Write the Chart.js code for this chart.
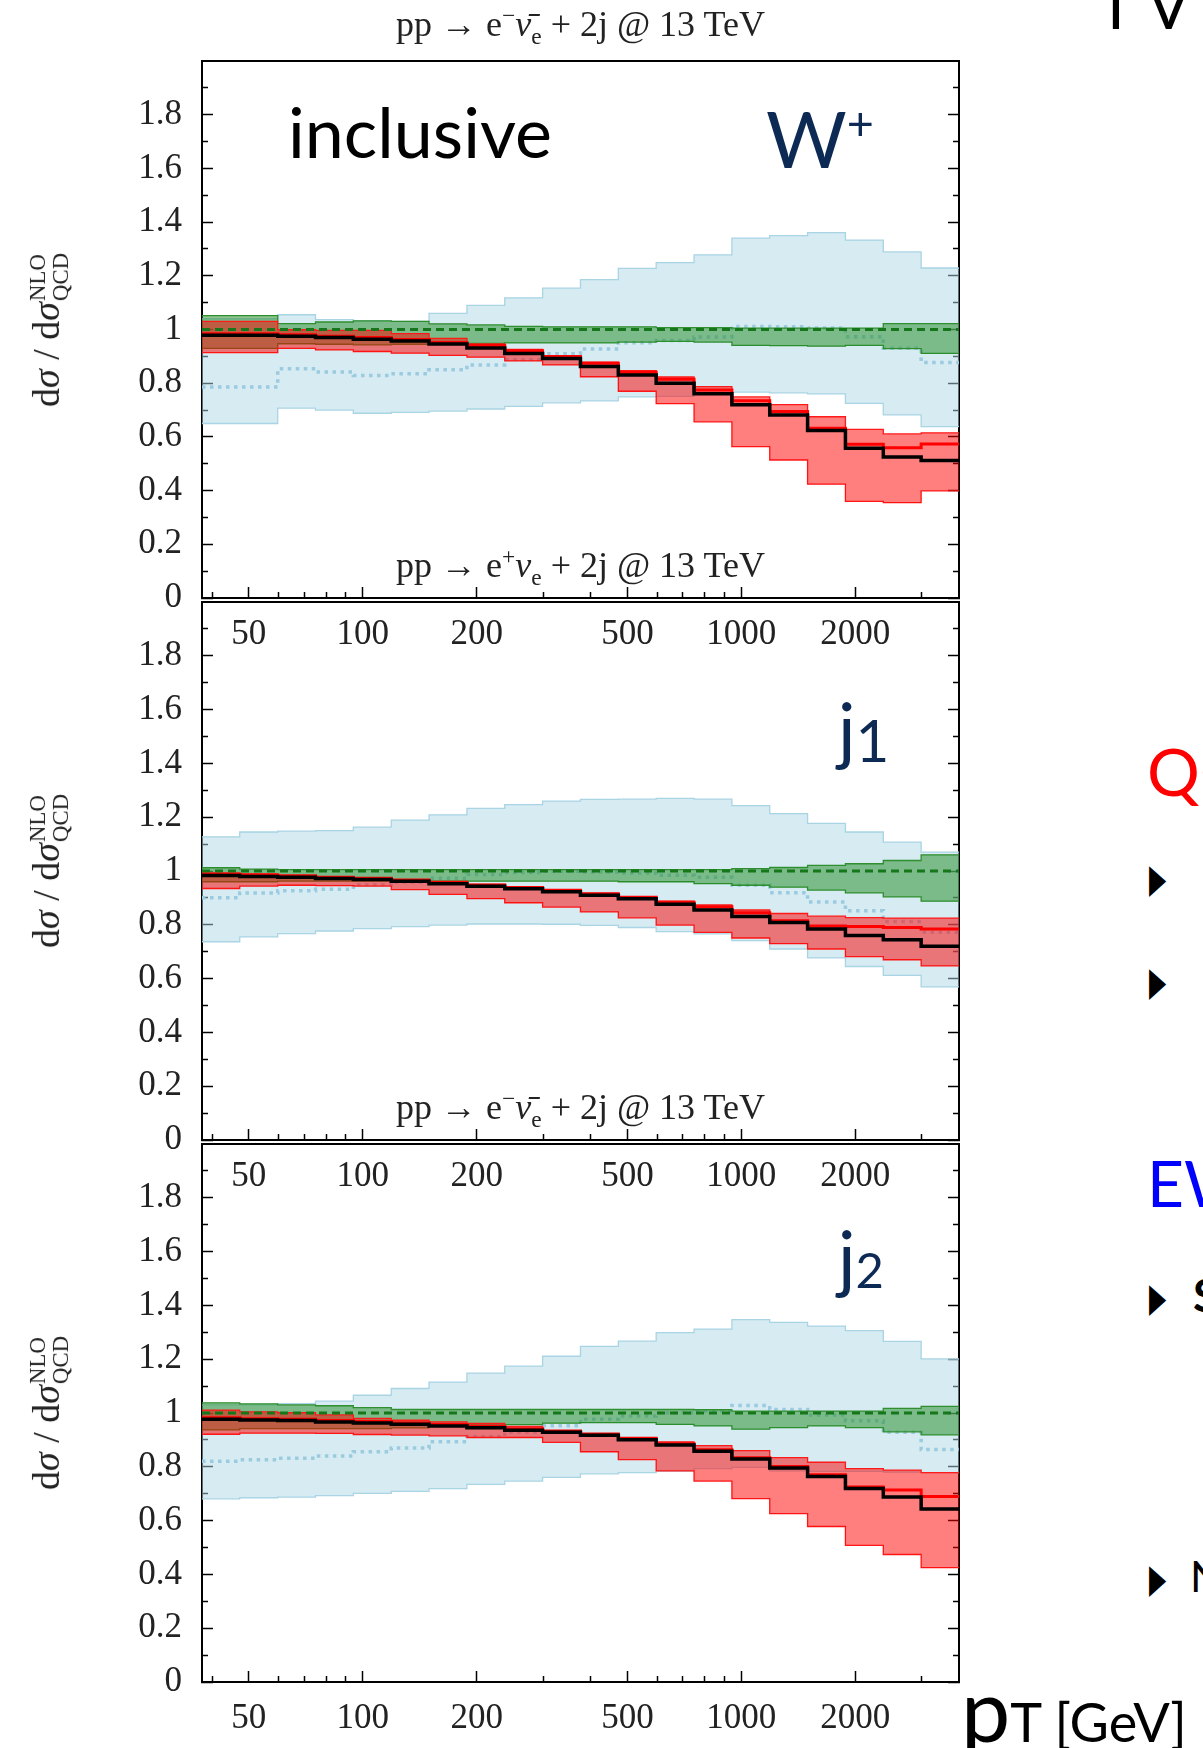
<!DOCTYPE html>
<html>
<head>
<meta charset="utf-8">
<script src="https://cdn.jsdelivr.net/npm/chart.js@4.4.0/dist/chart.umd.min.js"></script>
<style>
  body { margin: 0; width: 1203px; height: 1748px; overflow: hidden; background: #fff; position: relative; font-family: Lato, sans-serif; }
  canvas { position: absolute; left: 0; }
  .txt { position: absolute; white-space: nowrap; line-height: 1; }
  .ttl { position: absolute; left: 330px; width: 501px; text-align: center; font: 36px 'Liberation Serif', serif; line-height: 1; transform: translateY(-50%); color: #222; white-space: nowrap; }
  .ttl sup, .ttl sub { font-size: 65%; line-height: 0; }
  .ylab { position: absolute; left: 50px; transform: translate(-50%, -50%) rotate(-90deg); font: 38px 'Liberation Serif', serif; white-space: nowrap; line-height: 1; color: #222; }
  .ss { display: inline-flex; flex-direction: column; font-size: 0.6em; line-height: 1; vertical-align: middle; margin-left: 1px; }
  .navy { color: #0d2a55; }
  .bul { position: absolute; left: 1149px; font: 40px 'DejaVu Sans', sans-serif; line-height: 1; transform: translateY(-50%) scaleX(0.56); transform-origin: left center; }
</style>
</head>
<body>
<canvas id="c1" width="1000" height="641" style="top:9px"></canvas>
<canvas id="c2" width="1000" height="642" style="top:550px"></canvas>
<canvas id="c3" width="1000" height="642" style="top:1092px"></canvas>

<div class="ttl" style="top:24px">pp → e<sup>−</sup><i>ν̄</i><sub>e</sub> + 2j @ 13 TeV</div>
<div class="ttl" style="top:565px">pp → e<sup>+</sup><i>ν</i><sub>e</sub> + 2j @ 13 TeV</div>
<div class="ttl" style="top:1107px">pp → e<sup>−</sup><i>ν̄</i><sub>e</sub> + 2j @ 13 TeV</div>

<div class="ylab" style="top:330px">d<i>σ</i> / d<i>σ</i><span class="ss"><span>NLO</span><span>QCD</span></span></div>
<div class="ylab" style="top:871px">d<i>σ</i> / d<i>σ</i><span class="ss"><span>NLO</span><span>QCD</span></span></div>
<div class="ylab" style="top:1413px">d<i>σ</i> / d<i>σ</i><span class="ss"><span>NLO</span><span>QCD</span></span></div>

<div class="txt" style="left:288px;top:96px;font-size:70px;color:#000">inclusive</div>
<div class="txt navy" style="left:766px;top:99px;font-size:78px">W<span style="font-size:0.6em;position:relative;top:-0.6em">+</span></div>
<div class="txt navy" style="left:838px;top:692px;font-size:73px">j<span style="font-size:0.8em;position:relative;top:0.1em">1</span></div>
<div class="txt navy" style="left:838px;top:1220px;font-size:73px">j<span style="font-size:0.67em;position:relative;top:0.09em">2</span></div>

<div class="txt" style="left:1097px;top:-27px;font-size:64px;color:#000">T V</div>
<div class="txt" style="left:1147px;top:738px;font-size:66px;color:#ff0000">QCD</div>
<div class="bul" style="top:878px">▶</div>
<div class="bul" style="top:981px">▶</div>
<div class="txt" style="left:1147px;top:1151px;font-size:64px;color:#0000ff">EW</div>
<div class="bul" style="top:1297px">▶</div>
<div class="txt" style="left:1193px;top:1272px;font-size:46px;font-weight:bold;color:#000">Sudakov</div>
<div class="bul" style="top:1578px">▶</div>
<div class="txt" style="left:1190px;top:1554px;font-size:43px;color:#000">NLO</div>
<div class="txt" style="left:961px;top:1664px;font-size:88px;color:#000">p<span style="font-size:54px">T [GeV]</span></div>

<script>
'use strict';
// bin edges in pT (GeV), log spaced
let binEdges = [37.6, 47.3, 59.6, 75.0, 94.4, 118.9, 149.6, 188.4, 237.1, 298.5, 375.8,
  473.2, 595.7, 750.0, 944.1, 1188.5, 1496.2, 1883.6, 2371.4, 2985.4, 3758.4];
let xMajor = [50, 100, 200, 500, 1000, 2000];
let xMinor = [40, 60, 70, 80, 90, 300, 400, 600, 700, 800, 900, 3000];
let yMajor = [0, 0.2, 0.4, 0.6, 0.8, 1.0, 1.2, 1.4, 1.6, 1.8];
let yLabels = ['0', '0.2', '0.4', '0.6', '0.8', '1', '1.2', '1.4', '1.6', '1.8'];
let yMinor = [0.1, 0.3, 0.5, 0.7, 0.9, 1.1, 1.3, 1.5, 1.7, 1.9];
let nloQcd = [1, 1, 1, 1, 1, 1, 1, 1, 1, 1, 1, 1, 1, 1, 1, 1, 1, 1, 1, 1];

// inclusive, W+
let incBlueHi = [1.04, 1.04, 1.055, 1.037, 1.033, 1.03, 1.06, 1.09, 1.118, 1.154, 1.186, 1.228, 1.249, 1.278, 1.340, 1.350, 1.361, 1.333, 1.289, 1.229];
let incBlueLo = [0.650, 0.650, 0.707, 0.700, 0.688, 0.691, 0.696, 0.704, 0.714, 0.727, 0.734, 0.749, 0.751, 0.760, 0.767, 0.764, 0.760, 0.725, 0.682, 0.638];
let incBlueMid = [0.786, 0.786, 0.854, 0.842, 0.829, 0.835, 0.850, 0.868, 0.888, 0.910, 0.927, 0.951, 0.959, 0.972, 1.011, 1.010, 1.006, 0.973, 0.930, 0.877];
let incGreenHi = [1.052, 1.052, 1.022, 1.028, 1.032, 1.030, 1.021, 1.017, 1.012, 1.010, 1.010, 1.010, 1.007, 1.007, 1.005, 1.005, 1.005, 1.005, 1.022, 1.022];
let incGreenLo = [0.930, 0.930, 0.947, 0.945, 0.943, 0.945, 0.947, 0.948, 0.950, 0.950, 0.950, 0.953, 0.956, 0.953, 0.941, 0.940, 0.938, 0.941, 0.929, 0.911];
let incRedHi = [1.030, 1.030, 0.999, 0.997, 0.997, 0.985, 0.967, 0.946, 0.926, 0.903, 0.878, 0.847, 0.823, 0.787, 0.749, 0.720, 0.675, 0.628, 0.611, 0.615];
let incRedLo = [0.914, 0.914, 0.930, 0.924, 0.918, 0.912, 0.904, 0.897, 0.883, 0.868, 0.824, 0.770, 0.724, 0.656, 0.564, 0.514, 0.424, 0.360, 0.355, 0.399];
let incRed = [0.984, 0.984, 0.980, 0.975, 0.970, 0.963, 0.952, 0.940, 0.921, 0.899, 0.874, 0.841, 0.815, 0.775, 0.735, 0.695, 0.632, 0.573, 0.560, 0.574];
let incBlack = [0.979, 0.979, 0.975, 0.970, 0.964, 0.957, 0.946, 0.931, 0.911, 0.892, 0.862, 0.831, 0.800, 0.761, 0.720, 0.682, 0.624, 0.558, 0.525, 0.512];

// leading jet, W+
let j1BlueHi = [1.127, 1.145, 1.148, 1.150, 1.163, 1.189, 1.209, 1.233, 1.247, 1.260, 1.266, 1.267, 1.270, 1.267, 1.243, 1.213, 1.177, 1.145, 1.107, 1.070];
let j1BlueLo = [0.737, 0.755, 0.767, 0.777, 0.786, 0.793, 0.799, 0.803, 0.803, 0.802, 0.798, 0.790, 0.775, 0.766, 0.741, 0.710, 0.677, 0.645, 0.612, 0.569];
let j1BlueMid = [0.901, 0.918, 0.927, 0.932, 0.949, 0.958, 0.973, 0.987, 0.994, 0.999, 0.996, 0.993, 0.984, 0.977, 0.947, 0.919, 0.885, 0.852, 0.812, 0.772];
let j1GreenHi = [1.012, 1.007, 1.005, 1.005, 1.005, 1.005, 1.005, 1.005, 1.005, 1.005, 1.005, 1.005, 1.005, 1.005, 1.009, 1.013, 1.021, 1.027, 1.039, 1.060];
let j1GreenLo = [0.960, 0.960, 0.962, 0.962, 0.962, 0.962, 0.962, 0.962, 0.962, 0.962, 0.962, 0.960, 0.960, 0.953, 0.947, 0.940, 0.929, 0.919, 0.904, 0.888];
let j1RedHi = [0.993, 0.989, 0.983, 0.978, 0.974, 0.968, 0.960, 0.950, 0.940, 0.931, 0.917, 0.903, 0.888, 0.874, 0.855, 0.842, 0.832, 0.827, 0.825, 0.825];
let j1RedLo = [0.935, 0.944, 0.947, 0.946, 0.944, 0.931, 0.913, 0.897, 0.882, 0.866, 0.848, 0.826, 0.799, 0.772, 0.751, 0.730, 0.710, 0.682, 0.670, 0.647];
let j1Red = [0.988, 0.985, 0.982, 0.977, 0.973, 0.967, 0.958, 0.948, 0.939, 0.928, 0.915, 0.902, 0.884, 0.867, 0.845, 0.815, 0.796, 0.794, 0.790, 0.784];
let j1Black = [0.983, 0.980, 0.977, 0.972, 0.968, 0.962, 0.953, 0.943, 0.934, 0.923, 0.910, 0.897, 0.876, 0.855, 0.831, 0.809, 0.784, 0.760, 0.744, 0.720];

// second jet, W-
let j2BlueHi = [1.030, 1.030, 1.035, 1.044, 1.066, 1.091, 1.115, 1.148, 1.174, 1.211, 1.248, 1.267, 1.299, 1.312, 1.347, 1.337, 1.323, 1.306, 1.266, 1.201];
let j2BlueLo = [0.681, 0.685, 0.687, 0.693, 0.701, 0.709, 0.719, 0.735, 0.747, 0.761, 0.774, 0.778, 0.784, 0.793, 0.798, 0.785, 0.783, 0.783, 0.780, 0.778];
let j2BlueMid = [0.821, 0.826, 0.832, 0.840, 0.856, 0.870, 0.893, 0.913, 0.928, 0.953, 0.977, 0.989, 1.001, 1.007, 1.028, 1.013, 0.993, 0.971, 0.928, 0.864];
let j2GreenHi = [1.038, 1.034, 1.030, 1.027, 1.020, 1.013, 1.013, 1.013, 1.013, 1.013, 1.013, 1.013, 1.013, 1.012, 1.007, 1.007, 1.007, 1.007, 1.017, 1.025];
let j2GreenLo = [0.937, 0.942, 0.942, 0.942, 0.942, 0.945, 0.950, 0.955, 0.957, 0.962, 0.964, 0.964, 0.958, 0.952, 0.940, 0.946, 0.952, 0.946, 0.930, 0.919];
let j2RedHi = [1.011, 1.004, 1.001, 0.993, 0.980, 0.973, 0.967, 0.961, 0.950, 0.934, 0.921, 0.906, 0.893, 0.879, 0.860, 0.834, 0.817, 0.793, 0.788, 0.778];
let j2RedLo = [0.921, 0.925, 0.925, 0.924, 0.920, 0.918, 0.915, 0.909, 0.909, 0.891, 0.856, 0.827, 0.785, 0.747, 0.682, 0.626, 0.578, 0.508, 0.474, 0.425];
let j2Red = [0.982, 0.979, 0.977, 0.972, 0.968, 0.963, 0.957, 0.950, 0.941, 0.933, 0.922, 0.906, 0.886, 0.863, 0.834, 0.801, 0.770, 0.725, 0.714, 0.690];
let j2Black = [0.977, 0.974, 0.972, 0.967, 0.963, 0.958, 0.952, 0.945, 0.936, 0.928, 0.917, 0.901, 0.881, 0.858, 0.829, 0.796, 0.764, 0.719, 0.688, 0.643];

Chart.defaults.font.family = "'Liberation Serif', serif";
Chart.defaults.color = '#222';

// histogram -> points on bin edges, last value repeated at right edge
function steps(vals) {
  return binEdges.map((x, i) => ({ x: x, y: vals[Math.min(i, vals.length - 1)] }));
}

function setTicks(list) {
  return function (scale) {
    scale.ticks = list.map(v => ({ value: v }));
  };
}

function line(vals, color, width, extra) {
  return Object.assign({
    data: steps(vals),
    borderColor: color,
    borderWidth: width,
    stepped: true,
    pointRadius: 0,
    fill: false
  }, extra || {});
}

function makeChart(id, p) {
  let tickFont = { size: 35 };
  let datasets = [
    line(p.black, '#000000', 3.5, { order: 0 }),
    line(p.red, '#ff0000', 3, { order: 1 }),
    line(nloQcd, '#15761a', 3, { order: 2, borderDash: [8, 5] }),
    line(p.redHi, '#ff1a1a', 1.3, { order: 3, fill: '+1', backgroundColor: 'rgba(255,0,0,0.5)' }),
    line(p.redLo, '#ff1a1a', 1.3, { order: 4 }),
    line(p.greenHi, '#2f8f2f', 1.3, { order: 5, fill: '+1', backgroundColor: 'rgba(34,139,34,0.5)' }),
    line(p.greenLo, '#2f8f2f', 1.3, { order: 6 }),
    line(p.blueMid, '#9ccbe0', 3.5, { order: 7, borderDash: [3.5, 4.5] }),
    line(p.blueHi, '#a9d4e4', 1.3, { order: 8, fill: '+1', backgroundColor: 'rgba(173,216,230,0.5)' }),
    line(p.blueLo, '#a9d4e4', 1.3, { order: 9 })
  ];
  let yBase = { type: 'linear', min: 0, max: 2 };
  let xBase = { type: 'logarithmic', min: binEdges[0], max: binEdges[binEdges.length - 1] };
  return new Chart(document.getElementById(id), {
    type: 'line',
    data: { datasets: datasets },
    options: {
      responsive: false,
      animation: false,
      layout: { padding: { top: 50, left: 0, right: 0, bottom: 0 } },
      plugins: { legend: { display: false }, tooltip: { enabled: false }, title: { display: false } },
      scales: {
        x: Object.assign({}, xBase, {
          position: 'bottom', weight: 1,
          afterBuildTicks: setTicks(xMajor),
          afterFit: s => { s.height = 50; },
          grid: { drawOnChartArea: false, tickLength: -11, tickWidth: 1.5, tickColor: '#000' },
          border: { display: true, color: '#000', width: 2 },
          ticks: { autoSkip: false, maxRotation: 0, padding: 27, font: tickFont, callback: v => String(v) }
        }),
        xMin: Object.assign({}, xBase, {
          position: 'bottom', weight: 0,
          afterBuildTicks: setTicks(xMinor),
          afterFit: s => { s.height = 0; },
          grid: { drawOnChartArea: false, tickLength: -6, tickWidth: 1.5, tickColor: '#000' },
          border: { display: false },
          ticks: { display: false, autoSkip: false }
        }),
        xTop: Object.assign({}, xBase, {
          position: 'top',
          afterFit: s => { s.height = 0; },
          grid: { display: false, drawTicks: false },
          border: { display: true, color: '#000', width: 2 },
          ticks: { display: false }
        }),
        y: Object.assign({}, yBase, {
          position: 'left', weight: 1,
          afterBuildTicks: setTicks(yMajor),
          afterFit: s => { s.width = 202; },
          grid: { drawOnChartArea: false, tickLength: -11, tickWidth: 1.5, tickColor: '#000' },
          border: { display: true, color: '#000', width: 2 },
          ticks: { autoSkip: false, padding: 31, font: tickFont, callback: (v, i) => yLabels[i] }
        }),
        yMin: Object.assign({}, yBase, {
          position: 'left', weight: 0,
          afterBuildTicks: setTicks(yMinor),
          afterFit: s => { s.width = 0; },
          grid: { drawOnChartArea: false, tickLength: -6, tickWidth: 1.5, tickColor: '#000' },
          border: { display: false },
          ticks: { display: false, autoSkip: false }
        }),
        yR: Object.assign({}, yBase, {
          position: 'right', weight: 1,
          afterBuildTicks: setTicks(yMajor),
          afterFit: s => { s.width = 41; },
          grid: { drawOnChartArea: false, tickLength: -11, tickWidth: 1.5, tickColor: '#000' },
          border: { display: true, color: '#000', width: 2 },
          ticks: { display: false, autoSkip: false }
        }),
        yRMin: Object.assign({}, yBase, {
          position: 'right', weight: 0,
          afterBuildTicks: setTicks(yMinor),
          afterFit: s => { s.width = 0; },
          grid: { drawOnChartArea: false, tickLength: -6, tickWidth: 1.5, tickColor: '#000' },
          border: { display: false },
          ticks: { display: false, autoSkip: false }
        })
      }
    }
  });
}

makeChart('c1', { blueHi: incBlueHi, blueLo: incBlueLo, blueMid: incBlueMid, greenHi: incGreenHi, greenLo: incGreenLo,
  redHi: incRedHi, redLo: incRedLo, red: incRed, black: incBlack });
makeChart('c2', { blueHi: j1BlueHi, blueLo: j1BlueLo, blueMid: j1BlueMid, greenHi: j1GreenHi, greenLo: j1GreenLo,
  redHi: j1RedHi, redLo: j1RedLo, red: j1Red, black: j1Black });
makeChart('c3', { blueHi: j2BlueHi, blueLo: j2BlueLo, blueMid: j2BlueMid, greenHi: j2GreenHi, greenLo: j2GreenLo,
  redHi: j2RedHi, redLo: j2RedLo, red: j2Red, black: j2Black });
</script>
</body>
</html>
